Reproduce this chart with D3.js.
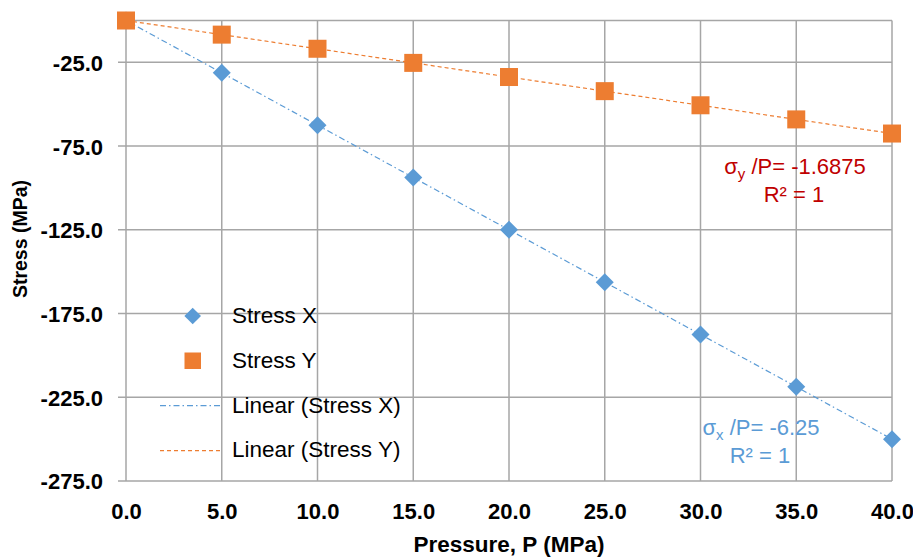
<!DOCTYPE html>
<html>
<head>
<meta charset="utf-8">
<script src="https://cdn.jsdelivr.net/npm/d3@7"></script>
<style>
  body { margin: 0; background: #fff; }
  svg text { font-family: "Liberation Sans", Arial, sans-serif; }
</style>
</head>
<body>
<div id="chart"></div>
<script>
// data
var pressure = [0, 5, 10, 15, 20, 25, 30, 35, 40];
var stressX = [0, -31.25, -62.5, -93.75, -125, -156.25, -187.5, -218.75, -250];
var stressY = [0, -8.4375, -16.875, -25.3125, -33.75, -42.1875, -50.625, -59.0625, -67.5];
var slopeX = -6.25, slopeY = -1.6875;
var xTicks = [0, 5, 10, 15, 20, 25, 30, 35, 40];
var yTicks = [-25, -75, -125, -175, -225, -275];

var blue = "#5B9BD5", orange = "#ED7D31", red = "#C00000", grid = "#A6A6A6";

var W = 913, H = 558;
var margin = { top: 20.5, right: 21, bottom: 77, left: 126 };
var width = W - margin.left - margin.right;
var height = H - margin.top - margin.bottom;

var svg = d3.select("#chart").append("svg")
  .attr("width", W).attr("height", H);
var g = svg.append("g")
  .attr("transform", "translate(" + margin.left + "," + margin.top + ")");

var x = d3.scaleLinear().domain([0, 40]).range([0, width]);
var y = d3.scaleLinear().domain([-275, 0]).range([height, 0]);

// hyphen minus like Excel, not the unicode minus of d3.format
var fmt = function (d) { return d.toFixed(1); };

// gridlines
g.selectAll(".hgrid").data(yTicks.concat([0])).enter().append("line")
  .attr("x1", function (d) { return d === 0 ? 0 : -8; }).attr("x2", width)
  .attr("y1", function (d) { return y(d); }).attr("y2", function (d) { return y(d); })
  .attr("stroke", grid).attr("stroke-width", 1.5);
g.selectAll(".vgrid").data(xTicks).enter().append("line")
  .attr("x1", function (d) { return x(d); }).attr("x2", function (d) { return x(d); })
  .attr("y1", 0).attr("y2", height)
  .attr("stroke", grid).attr("stroke-width", 1.5);

// axes labels
var yAxis = d3.axisLeft(y).tickValues(yTicks).tickSize(0).tickPadding(23).tickFormat(fmt);
var yg = g.append("g").call(yAxis).attr("font-family", null);
yg.select(".domain").remove();
yg.selectAll("text").attr("font-weight", "bold")
  .attr("font-size", 22).attr("fill", "#000").attr("dy", "0.36em");

var xAxis = d3.axisBottom(x).tickValues(xTicks).tickSize(0).tickPadding(22).tickFormat(fmt);
var xg = g.append("g").attr("transform", "translate(0," + height + ")").call(xAxis)
  .attr("font-family", null);
xg.select(".domain").remove();
xg.selectAll("text").attr("font-weight", "bold")
  .attr("font-size", 22).attr("fill", "#000");

// axis titles
svg.append("text").attr("x", 509).attr("y", 552)
  .attr("text-anchor", "middle").attr("font-weight", "bold").attr("font-size", 22.5)
  .text("Pressure, P (MPa)");
svg.append("text").attr("transform", "translate(27,239) rotate(-90)")
  .attr("text-anchor", "middle").attr("font-weight", "bold").attr("font-size", 19.5)
  .text("Stress (MPa)");

// trendlines
var trend = function (slope) {
  return d3.line().x(function (d) { return x(d); }).y(function (d) { return y(slope * d); })([0, 40]);
};
g.append("path").attr("d", trend(slopeX)).attr("fill", "none")
  .attr("stroke", blue).attr("stroke-width", 1.2).attr("stroke-dasharray", "6,3,1.5,3");
g.append("path").attr("d", trend(slopeY)).attr("fill", "none")
  .attr("stroke", orange).attr("stroke-width", 1.2).attr("stroke-dasharray", "4,3");

// markers
var diamond = d3.symbol().type(d3.symbolSquare).size(162);
g.selectAll(".mx").data(pressure).enter().append("path")
  .attr("d", diamond)
  .attr("transform", function (d, i) { return "translate(" + x(d) + "," + y(stressX[i]) + ") rotate(45)"; })
  .attr("fill", blue);
g.selectAll(".my").data(pressure).enter().append("rect")
  .attr("x", function (d) { return x(d) - 9; })
  .attr("y", function (d, i) { return y(stressY[i]) - 9; })
  .attr("width", 18).attr("height", 18)
  .attr("fill", orange);

// legend
var lg = svg.append("g");
lg.append("path").attr("d", d3.symbol().type(d3.symbolSquare).size(138))
  .attr("transform", "translate(192.7,316) rotate(45)").attr("fill", blue);
lg.append("rect").attr("x", 184.5).attr("y", 352.5).attr("width", 16.5).attr("height", 16.5).attr("fill", orange);
lg.append("line").attr("x1", 160).attr("x2", 223).attr("y1", 405.7).attr("y2", 405.7)
  .attr("stroke", blue).attr("stroke-width", 1.2).attr("stroke-dasharray", "6,3,1.5,3");
lg.append("line").attr("x1", 160).attr("x2", 223).attr("y1", 450.7).attr("y2", 450.7)
  .attr("stroke", orange).attr("stroke-width", 1.2).attr("stroke-dasharray", "4,3");
var legendLabels = ["Stress X", "Stress Y", "Linear (Stress X)", "Linear (Stress Y)"];
var legendBase = [323.3, 367.7, 412.7, 456.7];
lg.selectAll("text").data(legendLabels).enter().append("text")
  .attr("x", 232).attr("y", function (d, i) { return legendBase[i]; })
  .attr("font-size", 22.5).attr("fill", "#000").text(function (d) { return d; });

// equation annotations
var annY = svg.append("text").attr("x", 795).attr("y", 174).attr("text-anchor", "middle")
  .attr("font-size", 22).attr("fill", red);
annY.append("tspan").text("σ");
annY.append("tspan").attr("font-size", 15).attr("dy", 5).text("y");
annY.append("tspan").attr("dy", -5).text(" /P= " + slopeY);
svg.append("text").attr("x", 794).attr("y", 201.5).attr("text-anchor", "middle")
  .attr("font-size", 22).attr("fill", red).text("R² = 1");

var annX = svg.append("text").attr("x", 761).attr("y", 434.5).attr("text-anchor", "middle")
  .attr("font-size", 22).attr("fill", blue);
annX.append("tspan").text("σ");
annX.append("tspan").attr("font-size", 15).attr("dy", 5).text("x");
annX.append("tspan").attr("dy", -5).text(" /P= " + slopeX);
svg.append("text").attr("x", 760).attr("y", 463).attr("text-anchor", "middle")
  .attr("font-size", 22).attr("fill", blue).text("R² = 1");
</script>
</body>
</html>
